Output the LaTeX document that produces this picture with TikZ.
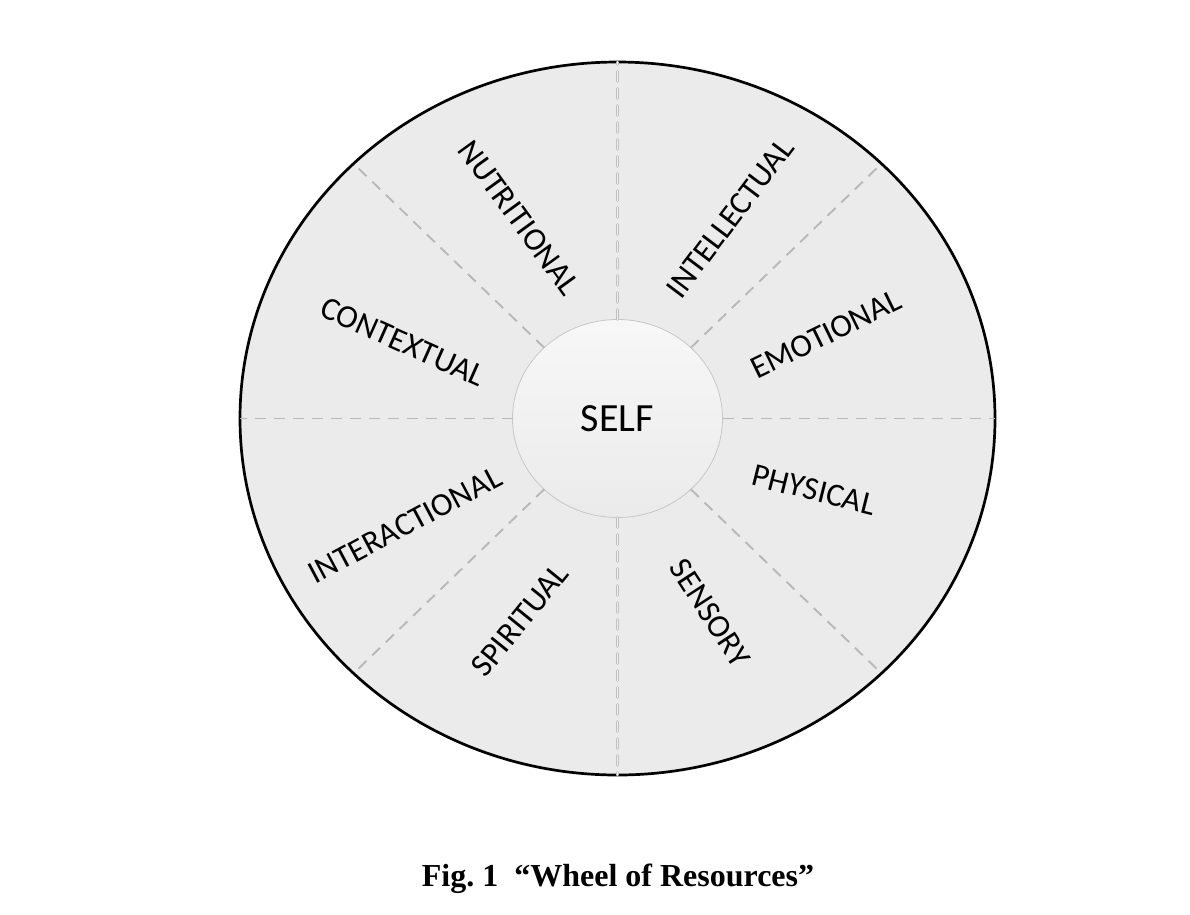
\documentclass[tikz,border=0pt]{standalone}
\usepackage{fontspec}
\setmainfont{Liberation Serif}
\newfontfamily\calib{Carlito}
\usetikzlibrary{shapes.geometric}
\begin{document}
\begin{tikzpicture}[x=1pt,y=-1pt,
  lbl/.style={font=\calib\fontsize{32.5}{32.5}\selectfont, inner sep=0pt, text=black},
  spoke/.style={draw=black!28, line width=1.9pt, dash pattern=on 11pt off 8pt},
  vspoke/.style={draw=black!25, line width=0.7pt, double=black!6, double distance=1.4pt, dash pattern=on 10pt off 7pt, line cap=round},
  wheelshape/.style={ellipse, draw=black, line width=2.7pt, fill=black!8, inner sep=0pt, outer sep=0pt},
  selfshape/.style={ellipse, draw=black!22, line width=0.8pt, top color=black!3, bottom color=black!8, inner sep=0pt, outer sep=0pt, font=\calib\fontsize{40}{40}\selectfont}
]
\useasboundingbox (0,0) rectangle (1190,914);
\fill[white] (0,0) rectangle (1190,914);
\node[wheelshape, minimum width=755pt, minimum height=713pt] (wheel) at (617.5,418.5) {};
\node[selfshape, minimum width=210pt, minimum height=198pt] (self) at (617.5,418.5) {SELF};
\foreach \a in {0,44,136,180,224,316}{
  \draw[spoke] (self.\a) -- (wheel.\a);
}
\draw[vspoke] (self.90) -- (wheel.90);
\draw[vspoke] (self.270) -- (wheel.270);
\node[lbl, rotate=-54] (nut) at (519,218) {NUTRITIONAL};
\node[lbl, rotate=53] (int) at (730,218) {INTELLECTUAL};
\node[lbl, rotate=-24] (con) at (403,342) {CONTEXTUAL};
\node[lbl, rotate=26] (emo) at (826,334) {EMOTIONAL};
\node[lbl, rotate=-14] (phy) at (814,490) {PHYSICAL};
\node[lbl, rotate=28] (inter) at (405,525) {INTERACTIONAL};
\node[lbl, rotate=51] (spi) at (520,620) {SPIRITUAL};
\node[lbl, rotate=-57] (sen) at (710,613) {SENSORY};
\node[font=\bfseries\fontsize{32}{32}\selectfont, anchor=base, inner sep=0pt] (cap) at (618,886) {Fig.~1\ \ “Wheel of Resources”};
\end{tikzpicture}
\end{document}
